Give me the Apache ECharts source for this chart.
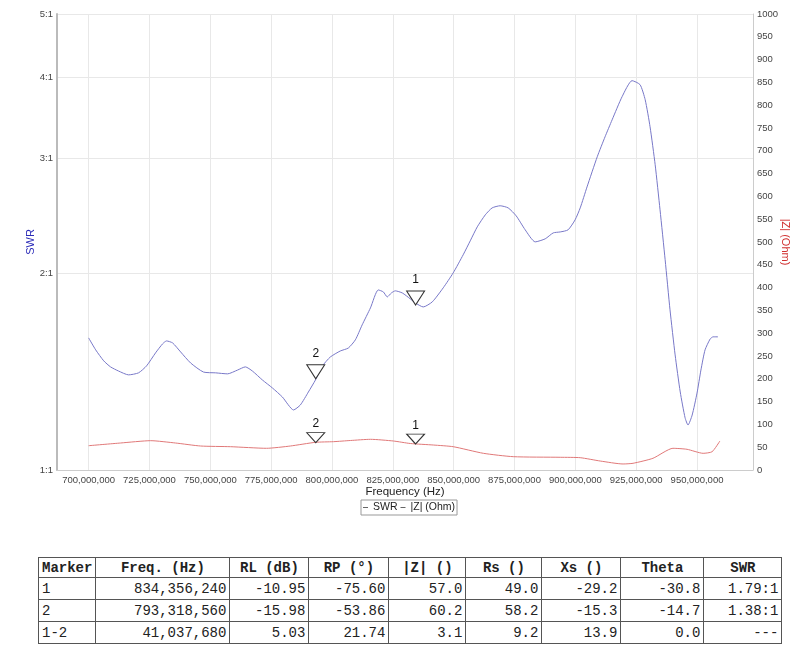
<!DOCTYPE html>
<html>
<head>
<meta charset="utf-8">
<title>SWR / |Z|</title>
<script src="https://cdn.jsdelivr.net/npm/echarts@6/dist/echarts.min.js"></script>
<style>
    body { margin: 0; background: #fff; }
    #chart { position: absolute; left: 0; top: 0; width: 800px; height: 530px; }
    #markerTable {
        position: absolute; left: 38px; top: 557px;
        border-collapse: collapse; table-layout: fixed;
        font-family: 'Liberation Mono', 'Courier New', monospace;
        font-size: 14px; color: #222;
    }
    #markerTable th, #markerTable td {
        border: 1px solid #555; padding: 0 3px; white-space: nowrap; overflow: hidden;
    }
    #markerTable th { height: 19px; font-weight: bold; text-align: center; }
    #markerTable td { height: 21px; text-align: right; }
    #markerTable th:first-child, #markerTable td:first-child { text-align: left; }
</style>
</head>
<body>
<div id="chart"></div>
<table id="markerTable"></table>
<script>
// 频率轴刻度 (MHz)
var xTickMHz = [700, 725, 750, 775, 800, 825, 850, 875, 900, 925, 950];
var swrTicks = [1, 2, 3, 4, 5];

// SWR 曲线
var swrFreqMHz = [700.0, 702.9, 706.2, 709.0, 712.3, 716.4, 720.5, 723.8, 727.5, 730.4,
    732.0, 734.5, 737.8, 741.9, 747.2, 752.2, 757.1, 761.2, 764.4, 767.3,
    771.4, 775.5, 779.6, 784.2, 787.0, 790.3, 793.2, 796.1, 799.3, 803.4,
    806.7, 809.6, 812.4, 815.8, 819.0, 821.1, 822.7, 824.4, 826.0, 828.9,
    832.2, 834.2, 837.5, 841.2, 845.7, 849.8, 853.9, 856.8, 859.7, 863.0,
    865.8, 869.1, 872.4, 875.7, 879.4, 883.5, 887.6, 890.9, 893.8, 897.0,
    899.9, 902.0, 904.8, 909.0, 912.2, 915.1, 919.2, 923.3, 926.6, 928.7,
    930.7, 932.8, 934.8, 936.9, 938.9, 941.0, 943.1, 945.1, 946.3, 948.0,
    950.0, 951.6, 953.3, 955.4, 956.6, 958.6];
var swrValues = [1.594, 1.528, 1.470, 1.439, 1.418, 1.399, 1.409, 1.444, 1.512, 1.561,
    1.577, 1.566, 1.517, 1.459, 1.413, 1.409, 1.404, 1.423, 1.439, 1.418,
    1.374, 1.336, 1.294, 1.236, 1.258, 1.317, 1.374, 1.444, 1.490, 1.522,
    1.538, 1.583, 1.669, 1.772, 1.888, 1.875, 1.842, 1.868, 1.882, 1.868,
    1.829, 1.804, 1.778, 1.810, 1.902, 2.005, 2.137, 2.245, 2.359, 2.461,
    2.522, 2.541, 2.522, 2.452, 2.334, 2.237, 2.261, 2.309, 2.317, 2.334,
    2.418, 2.522, 2.716, 3.021, 3.241, 3.441, 3.734, 3.952, 3.896, 3.694,
    3.358, 2.937, 2.505, 2.100, 1.760, 1.501, 1.317, 1.202, 1.172, 1.214,
    1.312, 1.423, 1.528, 1.588, 1.600, 1.600];

// |Z| 曲线
var zFreqMHz = [700.0, 713.1, 725.5, 735.7, 746.0, 758.3, 773.1, 782.9, 793.2, 800.6,
    807.6, 815.8, 825.2, 832.2, 841.6, 849.8, 862.2, 874.5, 893.8, 902.0,
    910.2, 919.6, 923.7, 931.9, 940.1, 945.9, 952.5, 956.2, 959.4];
var zValues = [53.3, 59.2, 64.3, 59.2, 52.6, 51.1, 47.6, 52.6, 60.7, 62.1,
    64.7, 67.3, 63.6, 58.1, 54.8, 51.1, 36.6, 29.2, 27.9, 27.0,
    19.7, 13.2, 14.7, 25.7, 47.6, 45.4, 36.6, 40.1, 63.6];

// 标记点
var markerNames = ['1', '2'];
var markerFreqHz = [834356240, 793318560];
var markerSwr = [1.79, 1.38];
var markerZ = [57.0, 60.2];

// 表格
var tableHeader = ['Marker', 'Freq. (Hz)', 'RL (dB)', 'RP (°)', '|Z| ()', 'Rs ()', 'Xs ()', 'Theta', 'SWR'];
var tableRows = [
    ['1', '834,356,240', '-10.95', '-75.60', '57.0', '49.0', '-29.2', '-30.8', '1.79:1'],
    ['2', '793,318,560', '-15.98', '-53.86', '60.2', '58.2', '-15.3', '-14.7', '1.38:1'],
    ['1-2', '41,037,680', '5.03', '21.74', '3.1', '9.2', '13.9', '0.0', '---']
];
var colWidths = [55, 134, 79, 80, 77, 76, 79, 83, 78];

function withCommas(v) {
    return String(Math.round(v)).replace(/\B(?=(\d{3})+(?!\d))/g, ',');
}

function buildTable() {
    var html = '<colgroup>';
    colWidths.forEach(w => { html += '<col style="width:' + w + 'px">'; });
    html += '</colgroup><tr>';
    tableHeader.forEach(h => { html += '<th>' + h + '</th>'; });
    html += '</tr>';
    tableRows.forEach(row => {
        html += '<tr>';
        row.forEach(c => { html += '<td>' + c + '</td>'; });
        html += '</tr>';
    });
    document.getElementById('markerTable').innerHTML = html;
}

function drawChart() {
    var chart = echarts.init(document.getElementById('chart'));
    var swrData = swrFreqMHz.map((f, i) => [f * 1e6, swrValues[i]]);
    var zData = zFreqMHz.map((f, i) => [f * 1e6, zValues[i]]);
    var xTicks = xTickMHz.map(f => f * 1e6);

    var markStyle = { color: '#fff', borderColor: '#333', borderWidth: 1 };

    var option = {
        animation: false,
        textStyle: { fontFamily: 'Liberation Sans, Arial, sans-serif' },
        grid: { left: 57, right: 47, top: 14, bottom: 60 },
        legend: {
            left: 361, top: 500,
            data: [
                { name: 'SWR', itemStyle: { color: '#666' } },
                { name: '|Z| (Ohm)', itemStyle: { color: '#666' } }
            ],
            icon: 'rect', itemWidth: 5, itemHeight: 1, itemGap: 3,
            padding: [2, 2], borderColor: '#999', borderWidth: 1,
            textStyle: { fontSize: 10.5, color: '#222' }
        },
        xAxis: {
            type: 'value', min: 687e6, max: 973e6,
            name: 'Frequency (Hz)', nameLocation: 'middle', nameGap: 16, nameMoveOverlap: false,
            nameTextStyle: { fontSize: 11.5, color: '#222' },
            axisLine: { lineStyle: { color: '#ccc' } },
            axisTick: { show: false, customValues: xTicks },
            axisLabel: { customValues: xTicks, formatter: withCommas, fontSize: 9.5, color: '#444', margin: 5 },
            splitLine: { show: true, lineStyle: { color: '#e8e8e8' } }
        },
        yAxis: [
            {
                type: 'log', logBase: 10, min: 1, max: 5, position: 'left',
                name: 'SWR', nameLocation: 'middle', nameRotate: 90, nameGap: 21, nameMoveOverlap: false,
                nameTextStyle: { fontSize: 11, color: '#2b2bb8' },
                axisLine: { show: true, lineStyle: { color: '#bbb', width: 2 } },
                axisTick: { show: false, customValues: swrTicks },
                axisLabel: { customValues: swrTicks, formatter: v => Math.round(v) + ':1', fontSize: 9.5, color: '#444', margin: 4 },
                splitLine: { show: true, lineStyle: { color: '#e8e8e8' } }
            },
            {
                type: 'value', min: 0, max: 1000, interval: 50, position: 'right',
                name: '|Z| (Ohm)', nameLocation: 'middle', nameRotate: -90, nameGap: 27, nameMoveOverlap: false,
                nameTextStyle: { fontSize: 11, color: '#d03030' },
                axisLine: { show: true, lineStyle: { color: '#ccc' } },
                axisTick: { show: false },
                axisLabel: { formatter: v => String(v), fontSize: 9.5, color: '#444', margin: 4 },
                splitLine: { show: false }
            }
        ],
        series: [
            {
                name: 'SWR', type: 'line', yAxisIndex: 0, data: swrData,
                showSymbol: false, smooth: 0.2,
                lineStyle: { color: '#7878c8', width: 1 }, itemStyle: { color: '#7878c8' },
                markPoint: {
                    symbol: 'triangle', symbolRotate: 180, symbolSize: [18, 14], symbolOffset: [0, -7],
                    itemStyle: markStyle,
                    label: { show: true, position: 'top', distance: 5, formatter: p => p.name, color: '#111', fontSize: 12 },
                    data: markerFreqHz.map((f, i) => ({ name: markerNames[i], coord: [f, markerSwr[i]] }))
                }
            },
            {
                name: '|Z| (Ohm)', type: 'line', yAxisIndex: 1, data: zData,
                showSymbol: false, smooth: 0.2,
                lineStyle: { color: '#e07878', width: 1 }, itemStyle: { color: '#e07878' },
                markPoint: {
                    symbol: 'triangle', symbolRotate: 180, symbolSize: [18, 10], symbolOffset: [0, -5],
                    itemStyle: markStyle,
                    label: { show: true, position: 'top', distance: 2, formatter: p => p.name, color: '#111', fontSize: 12 },
                    data: markerFreqHz.map((f, i) => ({ name: markerNames[i], coord: [f, markerZ[i]] }))
                }
            }
        ]
    };
    chart.setOption(option, true);
}

buildTable();
drawChart();
</script>
</body>
</html>
